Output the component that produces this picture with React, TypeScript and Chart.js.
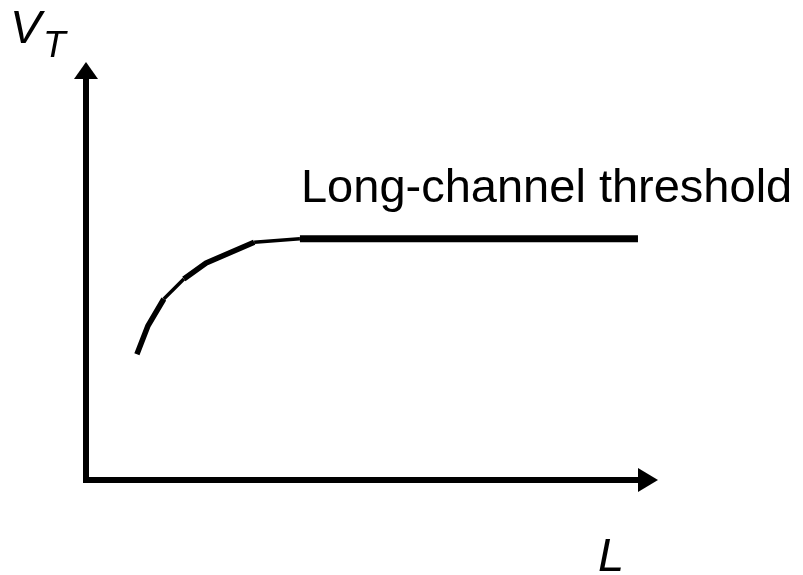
import React, { useEffect, useRef } from "react";
import { Chart, registerables } from "chart.js";

Chart.register(...registerables);

// Threshold voltage vs channel length (arbitrary units)
const lengthValues = [0.89, 1.08, 1.36, 1.71, 2.1, 2.94, 3.74, 9.65];
const vtValues = [3.01, 3.68, 4.33, 4.81, 5.19, 5.69, 5.77, 5.77];
const segmentWidths = [5.5, 5.5, 3.5, 5.5, 5.5, 3.5, 7];

const xAxisLabel = "L";
const yAxisLabel = "V";
const yAxisSub = "T";
const curveLabel = "Long-channel threshold";

const X_MIN = 0;
const X_MAX = 10;
const Y_MIN = 0;
const Y_MAX = 10;

const FONT = 'Arial, "Liberation Sans", Helvetica, sans-serif';

const arrowPlugin = {
  id: "arrowAxes",
  beforeDatasetsDraw(chart: any) {
    const { ctx, scales } = chart;
    const xs = scales.x;
    const ys = scales.y;
    const x0 = xs.getPixelForValue(X_MIN);
    const x1 = xs.getPixelForValue(X_MAX);
    const y0 = ys.getPixelForValue(Y_MIN);
    const y1 = ys.getPixelForValue(Y_MAX);
    ctx.save();
    ctx.strokeStyle = "#000";
    ctx.fillStyle = "#000";
    ctx.lineWidth = 6;
    ctx.lineCap = "butt";
    // y axis
    ctx.beginPath();
    ctx.moveTo(x0, y0 + 3);
    ctx.lineTo(x0, y1 + 14);
    ctx.stroke();
    // x axis
    ctx.beginPath();
    ctx.moveTo(x0 - 3, y0);
    ctx.lineTo(x1 - 18, y0);
    ctx.stroke();
    // y arrow head
    ctx.beginPath();
    ctx.moveTo(x0, y1);
    ctx.lineTo(x0 - 12, y1 + 17);
    ctx.lineTo(x0 + 12, y1 + 17);
    ctx.closePath();
    ctx.fill();
    // x arrow head
    ctx.beginPath();
    ctx.moveTo(x1, y0);
    ctx.lineTo(x1 - 20, y0 - 12);
    ctx.lineTo(x1 - 20, y0 + 12);
    ctx.closePath();
    ctx.fill();

    // labels
    ctx.textBaseline = "alphabetic";
    ctx.textAlign = "left";
    ctx.font = `italic 47px ${FONT}`;
    ctx.fillText(yAxisLabel, x0 - 76, y1 - 19);
    ctx.font = `italic 37px ${FONT}`;
    ctx.fillText(yAxisSub, x0 - 43, y1 - 5);
    ctx.font = `italic 47px ${FONT}`;
    ctx.fillText(xAxisLabel, x1 - 60, y0 + 91);

    ctx.font = `47px ${FONT}`;
    const lastX = xs.getPixelForValue(lengthValues[lengthValues.length - 1]);
    const lastY = ys.getPixelForValue(vtValues[vtValues.length - 1]);
    ctx.fillText(curveLabel, lastX - 337, lastY - 37);
    ctx.restore();
  },
};

export default function App() {
  const ref = useRef<HTMLCanvasElement | null>(null);
  useEffect(() => {
    if (!ref.current) return;
    const chart = new Chart(ref.current, {
      type: "line",
      data: {
        datasets: [
          {
            data: lengthValues.map((x, i) => ({ x, y: vtValues[i] })),
            borderColor: "#000",
            borderWidth: 5.5,
            pointRadius: 0,
            tension: 0,
            fill: false,
            borderCapStyle: "butt",
            borderJoinStyle: "bevel",
            segment: {
              borderWidth: (c: any) => segmentWidths[c.p0DataIndex] ?? 5.5,
            },
          },
        ],
      },
      options: {
        animation: false,
        responsive: false,
        maintainAspectRatio: false,
        layout: { padding: { left: 86, right: 145, top: 62, bottom: 95 } },
        plugins: { legend: { display: false }, tooltip: { enabled: false } },
        scales: {
          x: { type: "linear", min: X_MIN, max: X_MAX, display: false },
          y: { type: "linear", min: Y_MIN, max: Y_MAX, display: false },
        },
      },
      plugins: [arrowPlugin],
    });
    return () => chart.destroy();
  }, []);
  return (
    <div style={{ position: "fixed", left: 0, top: 0, width: 803, height: 575, background: "#fff" }}>
      <canvas ref={ref} width={803} height={575} style={{ width: 803, height: 575, display: "block" }} />
    </div>
  );
}
